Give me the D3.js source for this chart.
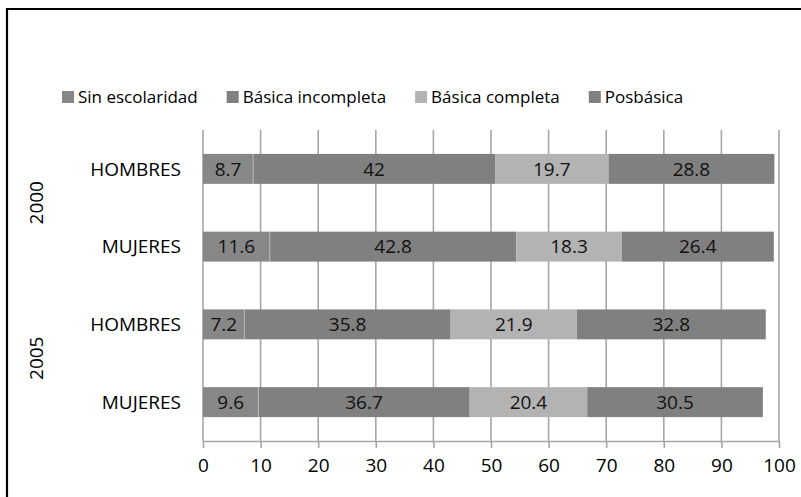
<!DOCTYPE html>
<html>
<head>
<meta charset="utf-8">
<script src="https://cdn.jsdelivr.net/npm/d3@7"></script>
<style>
  body { margin: 0; background: #fff; }
  svg { display: block; font-family: "Open Sans", sans-serif; }
</style>
</head>
<body>
<div id="chart"></div>
<script>
// Chart data
var categories = ['HOMBRES', 'MUJERES', 'HOMBRES', 'MUJERES'];
var years = ['2000', '2005'];
var seriesNames = ['Sin escolaridad', 'Básica incompleta', 'Básica completa', 'Posbásica'];
var sinEscolaridad = [8.7, 11.6, 7.2, 9.6];
var basicaIncompleta = [42, 42.8, 35.8, 36.7];
var basicaCompleta = [19.7, 18.3, 21.9, 20.4];
var posbasica = [28.8, 26.4, 32.8, 30.5];
var xTicks = [0, 10, 20, 30, 40, 50, 60, 70, 80, 90, 100];

var colors = ['#878787', '#808080', '#b3b3b3', '#808080'];

// Table for the stack layout
var rows = categories.map(function(c, i) {
    return {
        idx: i,
        'Sin escolaridad': sinEscolaridad[i],
        'Básica incompleta': basicaIncompleta[i],
        'Básica completa': basicaCompleta[i],
        'Posbásica': posbasica[i]
    };
});

var W = 801, H = 497;
var margin = {top: 130, right: 22, bottom: 56, left: 203};
var width = W - margin.left - margin.right,
    height = H - margin.top - margin.bottom;

var x = d3.scaleLinear().domain([0, 100]).range([0, width]);
var y = d3.scaleBand().domain(d3.range(categories.length)).range([0, height]).paddingInner(0.615).paddingOuter(0.3075);

var svg = d3.select('#chart').append('svg')
    .attr('width', W)
    .attr('height', H);

// Outer frame (left and top edges)
svg.append('path')
    .attr('d', 'M7,' + H + 'V9H' + W)
    .attr('fill', 'none')
    .attr('stroke', '#000')
    .attr('stroke-width', 2.2);

var chart = svg.append('g')
    .attr('transform', 'translate(' + margin.left + ',' + margin.top + ')');

// Vertical gridlines
chart.append('g')
    .selectAll('line')
    .data(xTicks)
    .enter()
    .append('line')
        .attr('x1', function(d) { return x(d); })
        .attr('x2', function(d) { return x(d); })
        .attr('y1', 0)
        .attr('y2', height)
        .attr('stroke', '#a6a6a6')
        .attr('stroke-width', 1.6);

// X axis
var xAxis = d3.axisBottom(x).tickValues(xTicks).tickSize(7).tickPadding(11).tickSizeOuter(0);
var gx = chart.append('g')
    .attr('transform', 'translate(0,' + height + ')')
    .call(xAxis);
gx.select('.domain').attr('stroke', '#a6a6a6').attr('stroke-width', 1.6);
gx.selectAll('.tick line').attr('stroke', '#a6a6a6').attr('stroke-width', 1.6);
gx.selectAll('.tick text')
    .attr('fill', '#000')
    .style('font-size', '19px')
    .style('font-family', '"Open Sans", sans-serif');

// Stacked bars
var stack = d3.stack().keys(seriesNames);
var layers = stack(rows);

var layer = chart.append('g')
    .selectAll('g')
    .data(layers)
    .enter()
    .append('g')
        .attr('fill', function(d, i) { return colors[i]; });

layer.selectAll('rect')
    .data(function(d) { return d; })
    .enter()
    .append('rect')
        .attr('x', function(d) { return x(d[0]); })
        .attr('y', function(d) { return y(d.data.idx); })
        .attr('width', function(d) { return x(d[1]) - x(d[0]); })
        .attr('height', y.bandwidth());

// Light edge after the first segment
chart.append('g')
    .selectAll('line')
    .data(layers[0])
    .enter()
    .append('line')
        .attr('x1', function(d) { return x(d[1]); })
        .attr('x2', function(d) { return x(d[1]); })
        .attr('y1', function(d) { return y(d.data.idx); })
        .attr('y2', function(d) { return y(d.data.idx) + y.bandwidth(); })
        .attr('stroke', '#b8b8b8')
        .attr('stroke-width', 1);

// Value labels
layer.selectAll('text')
    .data(function(d) { return d.map(function(p) { return {p: p, v: p[1] - p[0]}; }); })
    .enter()
    .append('text')
        .attr('x', function(d) { return x((d.p[0] + d.p[1]) / 2); })
        .attr('y', function(d) { return y(d.p.data.idx) + y.bandwidth() / 2; })
        .attr('dy', '0.35em')
        .attr('text-anchor', 'middle')
        .attr('fill', '#111')
        .style('font-size', '19px')
        .text(function(d) { return d3.format('~g')(+d.v.toFixed(1)); });

// Category labels
chart.append('g')
    .selectAll('text')
    .data(categories)
    .enter()
    .append('text')
        .attr('x', -22)
        .attr('y', function(d, i) { return y(i) + y.bandwidth() / 2; })
        .attr('dy', '0.35em')
        .attr('text-anchor', 'end')
        .attr('fill', '#000')
        .style('font-size', '19px')
        .text(function(d) { return d; });

// Year group labels
chart.append('g')
    .selectAll('text')
    .data(years)
    .enter()
    .append('text')
        .attr('transform', function(d, i) {
            var cy = (y(i * 2) + y(i * 2 + 1) + y.bandwidth()) / 2 - 5;
            return 'translate(' + (36 - margin.left) + ',' + cy + ') rotate(-90)';
        })
        .attr('dy', '0.35em')
        .attr('text-anchor', 'middle')
        .attr('fill', '#000')
        .style('font-size', '19px')
        .text(function(d) { return d; });

// Legend
var legend = svg.append('g').attr('transform', 'translate(62,97)');
var lx = 0;
seriesNames.forEach(function(name, i) {
    var item = legend.append('g').attr('transform', 'translate(' + lx + ',0)');
    item.append('rect')
        .attr('x', 0)
        .attr('y', -6)
        .attr('width', 12)
        .attr('height', 12)
        .attr('fill', colors[i]);
    var t = item.append('text')
        .attr('x', 16)
        .attr('dy', '0.35em')
        .attr('fill', '#000')
        .style('font-size', '17px')
        .text(name);
    lx += 16 + t.node().getComputedTextLength() + 29;
});
</script>
</body>
</html>
